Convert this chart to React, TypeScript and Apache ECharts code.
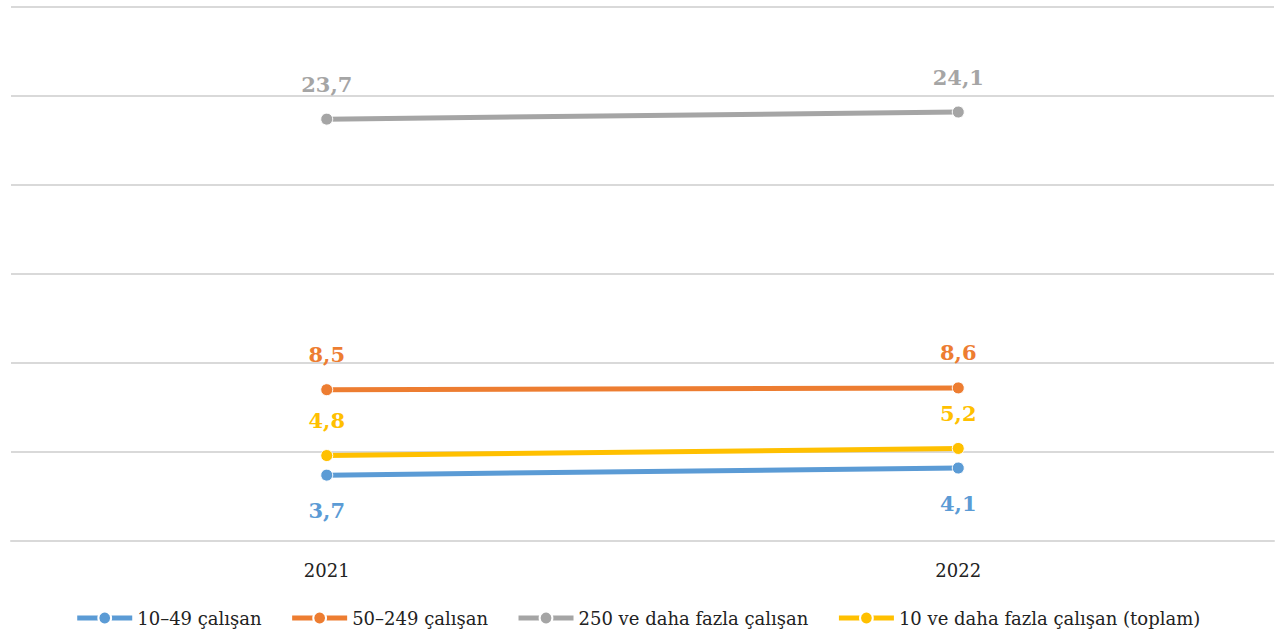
import React, { useEffect, useRef } from "react";
import * as echarts from "echarts";

const years = ["2021", "2022"];
const s10_49 = [3.7, 4.1];
const s50_249 = [8.5, 8.6];
const s250 = [23.7, 24.1];
const sTotal = [4.8, 5.2];

const names = ["10–49 çalışan", "50–249 çalışan", "250 ve daha fazla çalışan", "10 ve daha fazla çalışan (toplam)"];
const colors = ["#5B9BD5", "#ED7D31", "#A5A5A5", "#FFC000"];
const labelPos = ["bottom", "top", "top", "top"];

const FONT = "DejaVu Serif";

export default function App() {
  const ref = useRef<HTMLDivElement>(null);
  useEffect(() => {
    document.body.style.margin = "0";
    const chart = echarts.init(ref.current!, null, { renderer: "svg" });
    const datas = [s10_49, s50_249, s250, sTotal];
    chart.setOption({
      animation: false,
      backgroundColor: "#ffffff",
      textStyle: { fontFamily: FONT },
      grid: { left: 11, right: 1, top: 7, bottom: 93 },
      legend: {
        bottom: 2,
        left: "center",
        itemWidth: 55,
        itemHeight: 16,
        itemGap: 28,
        lineStyle: { width: 5 },
        textStyle: { fontFamily: FONT, fontSize: 18, color: "#222" },
        data: names,
      },
      xAxis: {
        type: "category",
        data: years,
        boundaryGap: true,
        axisLine: { lineStyle: { color: "#D9D9D9", width: 2 } },
        axisTick: { show: false },
        axisLabel: { fontFamily: FONT, fontSize: 18, color: "#222", margin: 20 },
      },
      yAxis: {
        type: "value",
        min: 0,
        max: 30,
        interval: 5,
        axisLabel: { show: false },
        axisLine: { show: false },
        axisTick: { show: false },
        splitLine: { lineStyle: { color: "#D9D9D9", width: 2 } },
      },
      series: names.map((n, i) => ({
        name: n,
        type: "line",
        data: datas[i],
        color: colors[i],
        symbol: "circle",
        symbolSize: 12,
        lineStyle: { width: 5, color: colors[i] },
        itemStyle: { color: colors[i], borderColor: "#fff", borderWidth: 1 },
        label: {
          show: true,
          position: labelPos[i],
          distance: 18,
          fontFamily: FONT,
          fontSize: 21,
          fontWeight: "bold",
          color: colors[i],
          formatter: (p: any) => String(p.value).replace(".", ","),
        },
      })),
    });
    return () => chart.dispose();
  }, []);
  return <div ref={ref} style={{ width: 1275, height: 634 }} />;
}
